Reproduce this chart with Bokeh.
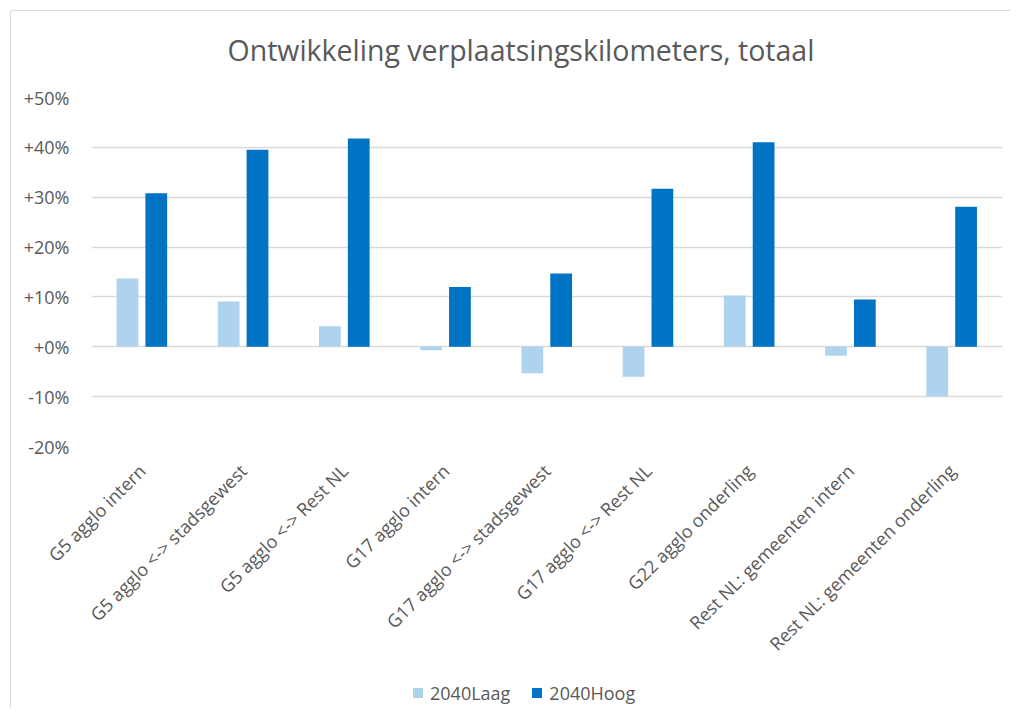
from bokeh.plotting import figure
from bokeh.models import ColumnDataSource, FactorRange, Range1d, Legend, LegendItem, FixedTicker, CustomJSTickFormatter
from bokeh.layouts import column
from bokeh.transform import dodge
from bokeh.embed import file_html
from bokeh.resources import INLINE
import math

categories = [
    "G5 agglo intern",
    "G5 agglo <-> stadsgewest",
    "G5 agglo <-> Rest NL",
    "G17 agglo intern",
    "G17 agglo <-> stadsgewest",
    "G17 agglo <-> Rest NL",
    "G22 agglo onderling",
    "Rest NL: gemeenten intern",
    "Rest NL: gemeenten onderling",
]
laag = [13.7, 9.1, 4.1, -0.7, -5.3, -6.0, 10.3, -1.8, -9.9]
hoog = [30.8, 39.5, 41.8, 12.0, 14.7, 31.7, 41.0, 9.5, 28.1]
series_names = ["2040Laag", "2040Hoog"]
y_ticks = [-20, -10, 0, 10, 20, 30, 40, 50]

LIGHT = "#AED3EE"
DARK = "#0073C4"
TXT = "#595959"
GRID = "#D9D9D9"
FONT = "Open Sans"

src = ColumnDataSource(dict(cat=categories, laag=laag, hoog=hoog))

p = figure(
    width=1000, height=664,
    x_range=FactorRange(*categories, range_padding=0),
    y_range=Range1d(-20, 50),
    output_backend="svg", toolbar_location=None,
    min_border_left=80, min_border_right=9, min_border_top=86, min_border_bottom=229,
)
p.margin = (10, 0, 0, 10)
p.styles = {"border-left": "1px solid #D9D9D9", "border-top": "1px solid #D9D9D9", "border-top-left-radius": "3px"}

p.title.text = "Ontwikkeling verplaatsingskilometers, totaal"
p.title.align = "left"
p.title.offset = 136
p.title.text_font = FONT
p.title.text_font_size = "28.5px"
p.title.text_font_style = "normal"
p.title.text_color = TXT
p.title.standoff = 0
p.title.padding = (0, 0, 0, 29)

r1 = p.vbar(x=dodge("cat", -0.145, range=p.x_range), top="laag", width=0.215, source=src,
            fill_color=LIGHT, line_color=None)
r2 = p.vbar(x=dodge("cat", 0.14, range=p.x_range), top="hoog", width=0.215, source=src,
            fill_color=DARK, line_color=None)

p.outline_line_color = None
p.xgrid.grid_line_color = None
p.ygrid.grid_line_color = GRID
p.ygrid.grid_line_width = 1.5

p.yaxis.ticker = FixedTicker(ticks=y_ticks)
p.yaxis.formatter = CustomJSTickFormatter(code="return (tick >= 0 ? '+' : '') + tick.toFixed(0) + '%';")
p.yaxis.axis_line_color = None
p.yaxis.major_tick_line_color = None
p.yaxis.minor_tick_line_color = None
p.yaxis.major_label_standoff = 16
p.yaxis.major_label_text_font = FONT
p.yaxis.major_label_text_font_size = "18px"
p.yaxis.major_label_text_color = TXT

p.xaxis.axis_line_color = None
p.xaxis.major_tick_line_color = None
p.xaxis.major_tick_out = 0
p.xaxis.major_label_orientation = math.pi / 4
p.xaxis.major_label_standoff = 21
p.xaxis.major_label_text_font = FONT
p.xaxis.major_label_text_font_size = "18px"
p.xaxis.major_label_text_color = TXT

# legend strip below the chart (square markers of the same series, kept out of view)
q = figure(
    width=1000, height=34,
    x_range=p.x_range, y_range=Range1d(100, 101),
    output_backend="svg", toolbar_location=None,
    min_border_left=0, min_border_right=0, min_border_top=0, min_border_bottom=0,
)
q.margin = (0, 0, 0, 10)
q.styles = {"border-left": "1px solid #D9D9D9"}
q.axis.visible = False
q.grid.visible = False
q.outline_line_color = None
l1 = q.scatter(x="cat", y="laag", marker="square", size=10, source=src,
               fill_color=LIGHT, line_color=None)
l2 = q.scatter(x="cat", y="hoog", marker="square", size=10, source=src,
               fill_color=DARK, line_color=None)

legend = Legend(items=[LegendItem(label=series_names[0], renderers=[l1]),
                       LegendItem(label=series_names[1], renderers=[l2])],
                orientation="horizontal", location=(314, 3))
legend.border_line_color = None
legend.background_fill_alpha = 0
legend.glyph_width = 25
legend.glyph_height = 25
legend.label_height = 20
legend.label_text_font = FONT
legend.label_text_font_size = "18px"
legend.label_text_color = TXT
legend.spacing = 14
legend.label_standoff = 0
legend.margin = 0
legend.padding = 0
q.add_layout(legend, "center")

layout = column(p, q, spacing=0)
open("out.html", "w").write(file_html(layout, INLINE))
